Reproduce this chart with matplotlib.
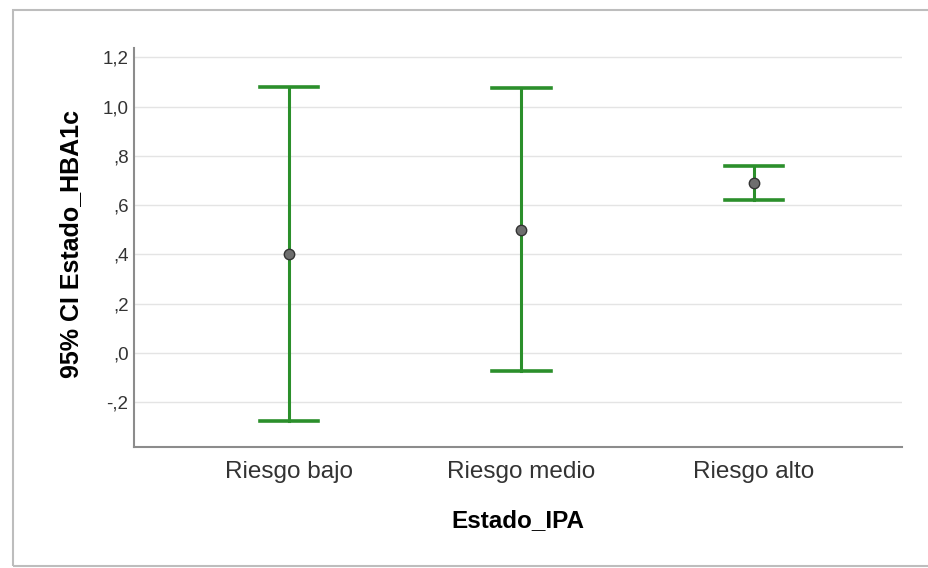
import matplotlib.pyplot as plt
from matplotlib.patches import Rectangle

categories = ['Riesgo bajo', 'Riesgo medio', 'Riesgo alto']
means = [0.40, 0.50, 0.69]
ci_low = [-0.276, -0.072, 0.622]
ci_high = [1.08, 1.077, 0.760]
yticks = [-0.2, 0.0, 0.2, 0.4, 0.6, 0.8, 1.0, 1.2]
ytick_labels = ['-,2', ',0', ',2', ',4', ',6', ',8', '1,0', '1,2']

plt.rcParams['font.family'] = ['Liberation Sans', 'DejaVu Sans']

fig = plt.figure(figsize=(9.29, 5.68), dpi=100)
ax = fig.add_axes([134 / 929, 1 - 447 / 568, (902 - 134) / 929, (447 - 48) / 568])

# frame around the chart like the screenshot
fig.patches.append(Rectangle((13 / 929, 2 / 568), 1.0, (558 - 2) / 568,
                             transform=fig.transFigure, fill=False,
                             edgecolor='#bdbdbd', linewidth=1.5))

x = range(len(categories))
green = '#2b8f2b'
for i in x:
    ax.plot([i, i], [ci_low[i], ci_high[i]], color=green, linewidth=2.2, zorder=2)
    ax.plot([i - 0.125, i + 0.125], [ci_low[i], ci_low[i]], color=green, linewidth=2.6, zorder=2)
    ax.plot([i - 0.125, i + 0.125], [ci_high[i], ci_high[i]], color=green, linewidth=2.6, zorder=2)
ax.plot(list(x), means, 'o', color='#6e6e6e', markeredgecolor='#333333',
        markersize=7.5, markeredgewidth=1, zorder=3, linestyle='none')

ax.set_xlim(-0.668, 2.638)
ax.set_ylim(-0.382, 1.238)
ax.set_yticks(yticks)
ax.set_yticklabels(ytick_labels)
ax.set_xticks(list(x))
ax.set_xticklabels(categories, fontsize=17.5, color='#333333')
ax.tick_params(axis='y', labelsize=13.5, labelcolor='#333333', length=0, pad=4)
ax.tick_params(axis='x', length=0, pad=10)
ax.grid(axis='y', color='#e4e4e4', linewidth=1)
ax.set_axisbelow(True)
for s in ['top', 'right']:
    ax.spines[s].set_visible(False)
for s in ['left', 'bottom']:
    ax.spines[s].set_color('#8c8c8c')
    ax.spines[s].set_linewidth(1.5)

ax.set_ylabel('95% CI Estado_HBA1c', fontsize=18, fontweight='bold')
ax.yaxis.set_label_coords(-0.066, 0.51)
ax.set_xlabel('Estado_IPA', fontsize=17.5, fontweight='bold', labelpad=19)

fig.savefig('out.png', dpi=100)
